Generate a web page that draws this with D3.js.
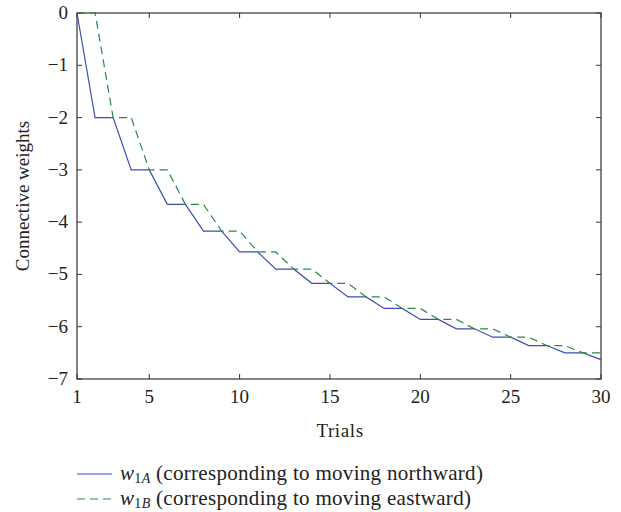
<!DOCTYPE html>
<html>
<head>
<meta charset="utf-8">
<script src="https://cdn.jsdelivr.net/npm/d3@7"></script>
<style>
  html, body { margin: 0; padding: 0; background: #fff; }
  svg text { font-family: "Liberation Serif", "DejaVu Serif", serif; fill: #222; }
</style>
</head>
<body>
<svg id="chart" width="621" height="512"></svg>
<script>
// Trials 1..30
const trials = d3.range(1, 31);
// Connective weight w1A (moving northward)
const w1A = [0, -2, -2, -3, -3, -3.66, -3.66, -4.17, -4.17, -4.57, -4.57, -4.9, -4.9, -5.17, -5.17,
             -5.43, -5.43, -5.65, -5.65, -5.86, -5.86, -6.04, -6.04, -6.2, -6.2, -6.36, -6.36, -6.5, -6.5, -6.63];
// Connective weight w1B (moving eastward)
const w1B = [0, 0, -2, -2, -3, -3, -3.66, -3.66, -4.17, -4.17, -4.57, -4.57, -4.9, -4.9, -5.17,
             -5.17, -5.43, -5.43, -5.65, -5.65, -5.86, -5.86, -6.04, -6.04, -6.2, -6.2, -6.36, -6.36, -6.5, -6.5];
const xTicks = [1, 5, 10, 15, 20, 25, 30];
const yTicks = [0, -1, -2, -3, -4, -5, -6, -7];

const svg = d3.select("#chart");
const L = 77, R = 601, T = 13, B = 379;
const x = d3.scaleLinear().domain([1, 30]).range([L, R]);
const y = d3.scaleLinear().domain([-7, 0]).range([B, T]);
const axisColor = "#333";
const fmt = d => d < 0 ? "\u2212" + Math.abs(d) : String(d);
const fs = 19;

// Box and inward ticks on all four sides
const axes = svg.append("g");
axes.append("rect").attr("x", L).attr("y", T).attr("width", R - L).attr("height", B - T)
  .attr("fill", "none").attr("stroke", axisColor).attr("stroke-width", 1.2);
const tl = 5;
xTicks.forEach(t => {
  axes.append("line").attr("x1", x(t)).attr("x2", x(t)).attr("y1", B).attr("y2", B - tl).attr("stroke", axisColor);
  axes.append("line").attr("x1", x(t)).attr("x2", x(t)).attr("y1", T).attr("y2", T + tl).attr("stroke", axisColor);
  axes.append("text").attr("x", x(t)).attr("y", B + 24).attr("text-anchor", "middle")
    .attr("font-size", fs).text(fmt(t));
});
yTicks.forEach(t => {
  axes.append("line").attr("x1", L).attr("x2", L + tl).attr("y1", y(t)).attr("y2", y(t)).attr("stroke", axisColor);
  axes.append("line").attr("x1", R).attr("x2", R - tl).attr("y1", y(t)).attr("y2", y(t)).attr("stroke", axisColor);
  axes.append("text").attr("x", L - 9).attr("y", y(t) + 6).attr("text-anchor", "end")
    .attr("font-size", fs).text(fmt(t));
});

svg.append("text").attr("x", (L + R) / 2 + 1).attr("y", 437).attr("text-anchor", "middle")
  .attr("font-size", fs).attr("letter-spacing", 0.6).text("Trials");
svg.append("text").attr("transform", `translate(29,${(T + B) / 2}) rotate(-90)`)
  .attr("text-anchor", "middle").attr("font-size", fs).text("Connective weights");

const line = d3.line().x((d, i) => x(trials[i])).y(d => y(d));
const blue = "#3b4eb3", green = "#2b8a3e";
svg.append("path").datum(w1A).attr("d", line).attr("fill", "none")
  .attr("stroke", blue).attr("stroke-width", 1.2);
svg.append("path").datum(w1B).attr("d", line).attr("fill", "none")
  .attr("stroke", green).attr("stroke-width", 1.2).attr("stroke-dasharray", "8,5");

// Legend
const legend = [
  { sub: "1A", text: " (corresponding to moving northward)", color: blue, dash: null, y: 474 },
  { sub: "1B", text: " (corresponding to moving eastward)", color: green, dash: "8,5", y: 499 }
];
legend.forEach(d => {
  svg.append("line").attr("x1", 77).attr("x2", 112).attr("y1", d.y).attr("y2", d.y)
    .attr("stroke", d.color).attr("stroke-width", 1.2).attr("stroke-dasharray", d.dash);
  const t = svg.append("text").attr("x", 120).attr("y", d.y + 6).attr("font-size", 21)
    .attr("letter-spacing", 0.3);
  t.append("tspan").attr("font-style", "italic").text("w");
  t.append("tspan").attr("font-size", 14).attr("dy", 3).text("1");
  t.append("tspan").attr("font-size", 14).attr("font-style", "italic").text(d.sub.slice(1));
  t.append("tspan").attr("dy", -3).text(d.text);
});
</script>
</body>
</html>
